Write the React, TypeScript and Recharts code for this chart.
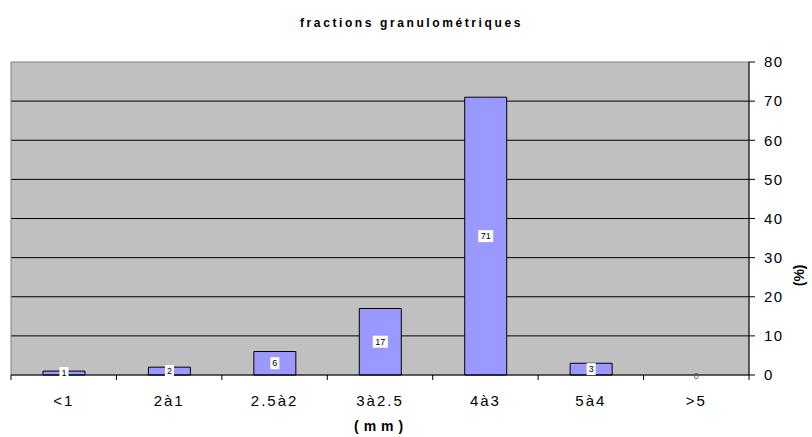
import { Bar, CartesianGrid, ComposedChart, LabelList, Line, ReferenceArea, XAxis, YAxis } from "recharts";

const fractions = ["<1", "2à1", "2.5à2", "3à2.5", "4à3", "5à4", ">5"];
const percents = [1, 2, 6, 17, 71, 3, 0];
const yTicks = [0, 10, 20, 30, 40, 50, 60, 70, 80];

const rows = fractions.map((f, i) => ({ fraction: f, pct: percents[i] }));

const FONT = "'Liberation Sans', Arial, sans-serif";
const TICK_GAP = 20;

// category label at the band centre, tick marks on the band edges (Excel style)
function CategoryTick(props: any) {
  const { x, y, payload, index, visibleTicksCount } = props;
  const half = payload?.offset ?? 0;
  const axisY = y - TICK_GAP;
  const last = index === visibleTicksCount - 1;
  return (
    <g>
      <line x1={x - half} x2={x - half} y1={axisY} y2={axisY + 5} stroke="#000" />
      {last && <line x1={x + half} x2={x + half} y1={axisY} y2={axisY + 5} stroke="#000" />}
      <text x={x} y={y} dy="0.71em" textAnchor="middle" fontSize={15} fontFamily={FONT} letterSpacing={2} fill="#000">
        {payload.value}
      </text>
    </g>
  );
}

// small white box with the value, like the spreadsheet data labels
function ValueTag(props: any) {
  const { x, y, width, height, value } = props;
  if (x == null || y == null || value === 0) return null;
  const cx = Number(x) + Number(width) / 2;
  const cy = Number(y) + Number(height || 0) / 2;
  const w = String(value).length * 6 + 3;
  return (
    <g>
      <rect x={cx - w / 2} y={cy - 6} width={w} height={12} fill="#ffffff" />
      <text x={cx} y={cy + 3} textAnchor="middle" fontSize={9} fontFamily={FONT} fill="#000">
        {String(value)}
      </text>
    </g>
  );
}

// zero-height bars get no label from the bar itself, so the empty class is labelled from a hidden line
function ZeroTag(props: any) {
  const { x, y, value } = props;
  if (value !== 0 || x == null) return null;
  return (
    <text x={Number(x)} y={Number(y) + 4} textAnchor="middle" fontSize={9} fontFamily={FONT} fill="#555">
      {String(value)}
    </text>
  );
}

export default function App() {
  return (
    <div style={{ position: "absolute", left: 0, top: 0, width: 812, height: 437, background: "#fff", fontFamily: FONT }}>
      <div
        style={{
          position: "absolute",
          left: 300,
          top: 16,
          fontSize: 12,
          fontWeight: "bold",
          letterSpacing: 2.6,
          whiteSpace: "nowrap",
        }}
      >
        fractions granulométriques
      </div>
      <div
        style={{
          position: "absolute",
          left: 354,
          top: 418,
          fontSize: 14,
          fontWeight: "bold",
          letterSpacing: 5,
          whiteSpace: "nowrap",
        }}
      >
        (mm)
      </div>
      <ComposedChart
        width={812}
        height={437}
        data={rows}
        margin={{ top: 62, right: 13, left: 11, bottom: 32 }}
      >
        <CartesianGrid
          fill="#C0C0C0"
          vertical={false}
          stroke="#000"
          strokeOpacity={1}
          horizontalValues={[10, 20, 30, 40, 50, 60, 70]}
        />
        <ReferenceArea y1={0} y2={80} fill="none" stroke="#808080" strokeWidth={1} ifOverflow="visible" />
        <XAxis
          dataKey="fraction"
          stroke="#000"
          tickLine={false}
          tickSize={0}
          tickMargin={TICK_GAP}
          interval={0}
          height={30}
          tick={CategoryTick}
        />
        <YAxis
          orientation="right"
          domain={[0, 80]}
          ticks={yTicks}
          width={50}
          stroke="#000"
          tickSize={6}
          tickMargin={9}
          tick={{ fill: "#000", fontSize: 15, fontFamily: FONT, letterSpacing: 1.5 }}
          label={{
            value: "(%)",
            angle: -90,
            position: "insideRight",
            offset: 0,
            dy: 46,
            fill: "#000",
            fontSize: 14,
            fontWeight: "bold",
            fontFamily: FONT,
          }}
        />
        <Bar dataKey="pct" fill="#9999FF" stroke="#000" strokeWidth={1} barSize={42} isAnimationActive={false}>
          <LabelList dataKey="pct" content={ValueTag} />
        </Bar>
        <Line dataKey="pct" stroke="none" dot={false} activeDot={false} legendType="none" isAnimationActive={false}>
          <LabelList dataKey="pct" content={ZeroTag} />
        </Line>
      </ComposedChart>
    </div>
  );
}
